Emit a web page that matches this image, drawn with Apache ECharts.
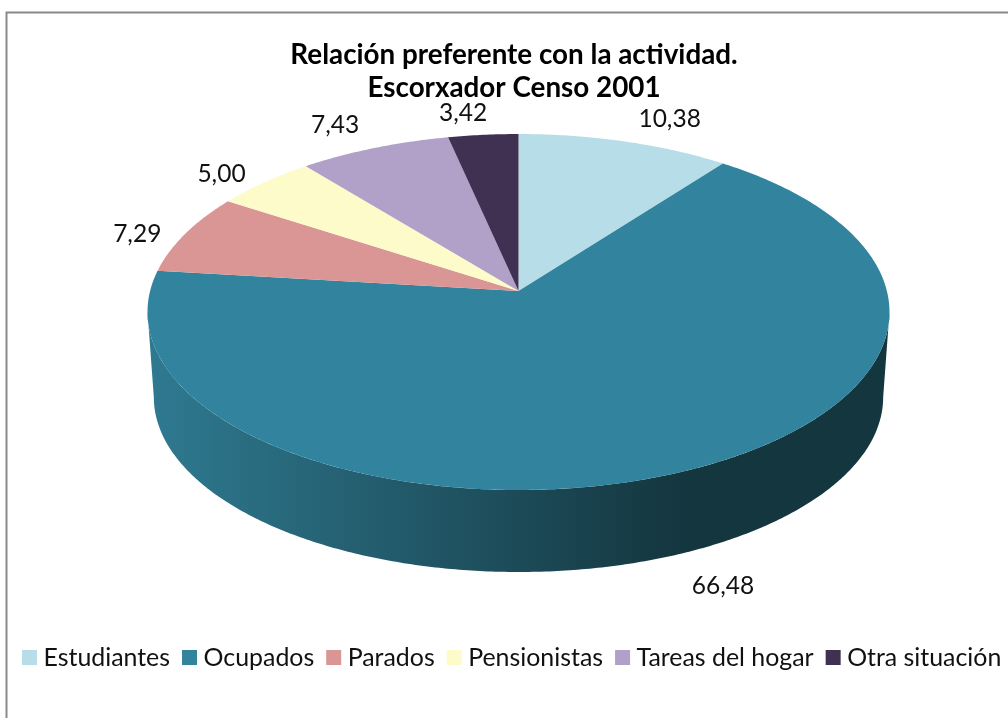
<!DOCTYPE html>
<html>
<head>
<meta charset="utf-8">
<style>html,body{margin:0;padding:0;background:#fff}#c{width:1008px;height:718px}</style>
<script src="https://cdn.jsdelivr.net/npm/echarts@6/dist/echarts.min.js"></script>
</head>
<body>
<div id="c"></div>
<script>
const categories = ['Estudiantes', 'Ocupados', 'Parados', 'Pensionistas', 'Tareas del hogar', 'Otra situación'];
const values = [10.38, 66.48, 7.29, 5.00, 7.43, 3.42];
const colors = ['#B7DDE8', '#31839E', '#D99694', '#FCFBC9', '#B1A0C7', '#403152'];
const titleLines = ['Relación preferente con la actividad.', 'Escorxador Censo 2001'];

/* Projection of the pie disc: a circle seen in perspective */
const cx = 518.5, apexY = 291, R = 368.4, Ry = 175.5, persp = 0.118;
const depthShift = 85.4, depthScale = 0.983;
const labelNudge = [[45, -22], [46, 31], [-48, 0], [-43, -8], [-39, -23], [-20, -22]];
const labelFont = 'Lato';

function rim(a, lower) {
  const u = Math.sin(a), v = Math.cos(a), w = 1 + persp * v;
  const s = lower ? depthScale : 1, d = lower ? depthShift : 0;
  return [cx + s * R * u / w, apexY + d - s * Ry * v / w];
}
function arc(a0, a1, lower) {
  const n = Math.max(2, Math.ceil(Math.abs(a1 - a0) / 0.01));
  const pts = [];
  for (let i = 0; i <= n; i++) pts.push(rim(a0 + (a1 - a0) * i / n, lower));
  return pts;
}
const total = values.reduce((a, b) => a + b, 0);
const visFrom = Math.PI / 2 + Math.asin(persp), visTo = 2 * Math.PI - visFrom;

function renderSlice(params, api) {
  const value = api.value(0), before = api.value(1);
  const a0 = before / total * 2 * Math.PI, a1 = (before + value) / total * 2 * Math.PI;
  const fill = api.visual('color');
  const children = [];
  const f = Math.max(a0, visFrom), t = Math.min(a1, visTo);
  if (t > f) {
    children.push({
      type: 'polygon',
      shape: { points: arc(f, t, false).concat(arc(t, f, true)) },
      style: {
        fill: new echarts.graphic.LinearGradient(147, 0, 680, 0, [
          { offset: 0, color: '#2F7A91' },
          { offset: 1, color: '#14363F' }
        ], true)
      }
    });
  }
  children.push({
    type: 'polygon',
    shape: { points: [[cx, apexY]].concat(arc(a0, a1, false)) },
    style: { fill: fill }
  });
  const mid = (a0 + a1) / 2, p = rim(mid, mid > visFrom && mid < visTo);
  const nudge = labelNudge[params.seriesIndex];
  children.push({
    type: 'text',
    x: p[0] + nudge[0],
    y: p[1] + nudge[1],
    style: {
      text: value.toFixed(2).replace('.', ','),
      fill: '#111',
      font: '24.5px ' + labelFont,
      align: 'center',
      verticalAlign: 'middle'
    }
  });
  return { type: 'group', children: children };
}

let running = 0;
const series = categories.map((name, i) => {
  const before = running;
  running += values[i];
  return {
    type: 'custom',
    name: name,
    coordinateSystem: 'none',
    silent: true,
    itemStyle: { color: colors[i] },
    renderItem: renderSlice,
    data: [[values[i], before]]
  };
});

const chart = echarts.init(document.getElementById('c'), null, { renderer: 'canvas' });
chart.setOption({
  animation: false,
  backgroundColor: '#fff',
  title: {
    text: titleLines.join('\n'),
    left: 509,
    top: 34,
    textAlign: 'center',
    textStyle: { fontFamily: labelFont, fontWeight: 'bold', fontSize: 27.8, lineHeight: 33, color: '#000' }
  },
  legend: {
    data: categories,
    left: 22,
    top: 645,
    width: 1000,
    padding: 0,
    icon: 'rect',
    itemWidth: 15,
    itemHeight: 15,
    itemGap: 12,
    selectedMode: false,
    textStyle: { fontFamily: labelFont, fontSize: 24.9, color: '#111', padding: [0, 0, 0, 1.5] }
  },
  graphic: [{
    type: 'rect',
    silent: true,
    z: -1,
    shape: { x: 6.5, y: 12.5, width: 1100, height: 800 },
    style: { fill: 'none', stroke: '#898989', lineWidth: 2 }
  }],
  series: series
});
</script>
</body>
</html>
